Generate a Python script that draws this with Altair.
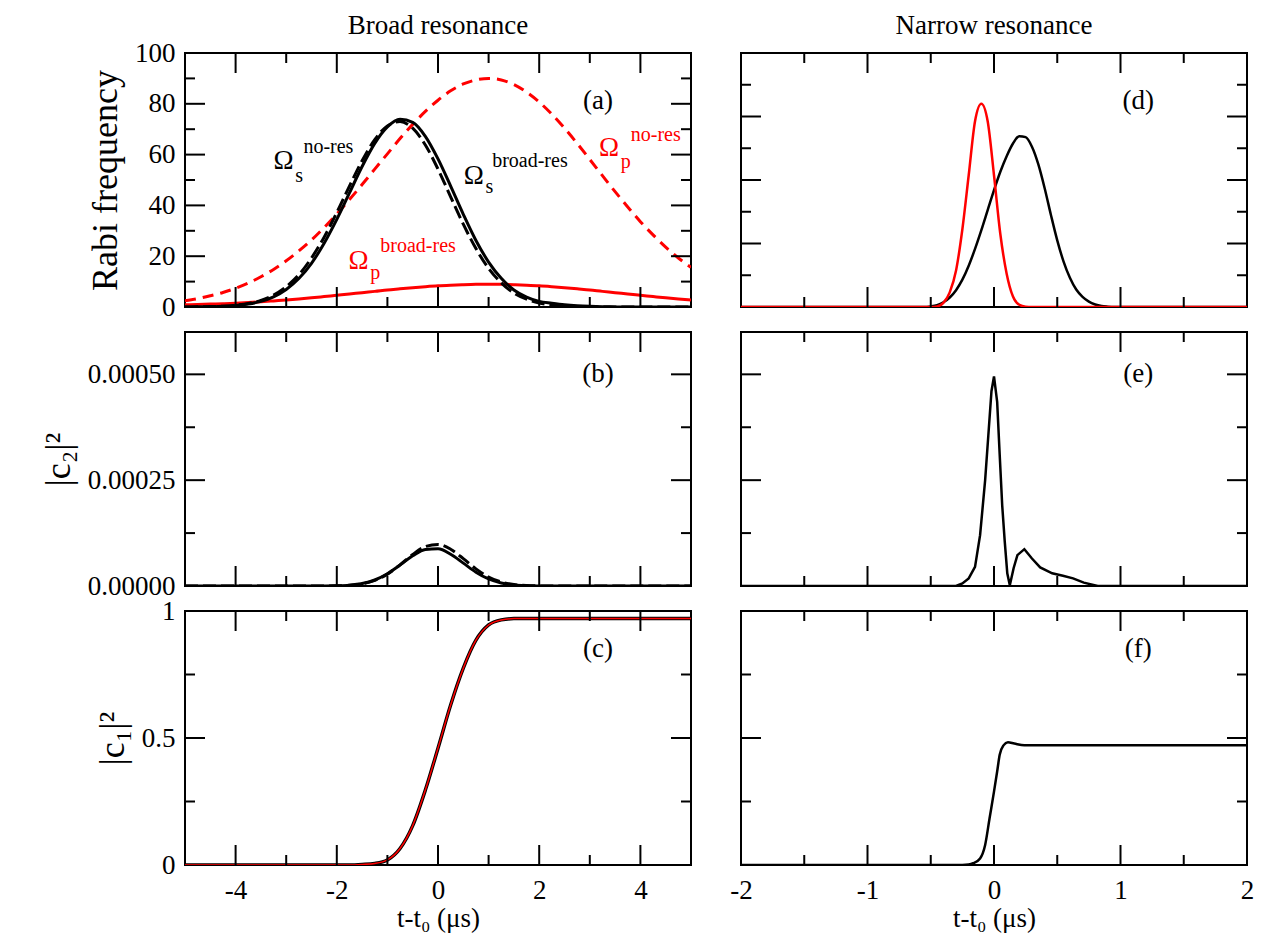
import altair as alt
import pandas as pd

FONT = "Liberation Serif"
RED = "#ff0000"
BLACK = "#000000"

# ---------------- Broad resonance (left column) ----------------
t_broad = [-5.0, -4.75, -4.5, -4.25, -4.0, -3.75, -3.5, -3.25, -3.0, -2.75,
           -2.5, -2.25, -2.0, -1.75, -1.5, -1.25, -1.0, -0.75, -0.5, -0.25,
           0.0, 0.25, 0.5, 0.75, 1.0, 1.25, 1.5, 1.75, 2.0, 2.25,
           2.5, 2.75, 3.0, 3.25, 3.5, 3.75, 4.0, 4.25, 4.5, 4.75, 5.0]

# panel (a): Rabi frequencies
omega_s_broad = [0.02, 0.05, 0.12, 0.26, 0.56, 1.15, 2.2, 4.0, 6.9, 11.2,
                 17.2, 25.1, 34.5, 44.9, 55.3, 64.4, 70.9, 73.9, 72.7, 67.2,
                 58.3, 47.6, 36.5, 26.2, 17.7, 11.3, 6.7, 3.9, 2.2, 1.5,
                 0.9, 0.5, 0.25, 0.1, 0.04, 0.0, 0.0, 0.0, 0.0, 0.0, 0.0]
omega_s_nores = [0.03, 0.06, 0.15, 0.33, 0.7, 1.4, 2.6, 4.7, 8.0, 12.7,
                 19.3, 27.5, 37.2, 47.6, 57.6, 65.9, 71.3, 73.0, 70.4, 63.8,
                 54.3, 43.4, 32.6, 23.0, 15.2, 9.5, 5.5, 3.1, 1.6, 0.8,
                 0.35, 0.15, 0.05, 0.0, 0.0, 0.0, 0.0, 0.0, 0.0, 0.0, 0.0]
omega_p_nores = [2.5, 3.3, 4.4, 5.7, 7.4, 9.4, 11.9, 14.8, 18.2, 22.1,
                 26.4, 31.3, 36.6, 42.3, 48.2, 54.3, 60.3, 66.3, 71.9, 77.0,
                 81.4, 85.1, 87.8, 89.4, 90.0, 89.4, 87.6, 84.6, 80.7, 75.9,
                 70.4, 64.4, 58.1, 51.7, 45.4, 39.4, 33.6, 28.4, 23.6, 19.3, 15.6]
omega_p_broad = [0.9, 1.0, 1.15, 1.3, 1.5, 1.75, 2.05, 2.4, 2.75, 3.15,
                 3.6, 4.1, 4.6, 5.1, 5.65, 6.15, 6.7, 7.15, 7.6, 8.0,
                 8.35, 8.6, 8.8, 8.95, 9.0, 8.95, 8.8, 8.6, 8.35, 8.0,
                 7.6, 7.15, 6.7, 6.15, 5.65, 5.1, 4.6, 4.1, 3.6, 3.15, 2.75]

# panel (b): |c2|^2
c2_broad_res = [0, 0, 0, 0, 0, 0, 0, 0, 0, 0,
                0, 1.4e-7, 6e-7, 2.0e-6, 5.8e-6, 1.42e-5, 2.89e-5, 4.95e-5, 7.13e-5, 8.63e-5,
                8.78e-5, 7.51e-5, 5.40e-5, 3.26e-5, 1.66e-5, 7.1e-6, 2.5e-6, 7.7e-7, 2e-7, 0,
                0, 0, 0, 0, 0, 0, 0, 0, 0, 0, 0]
c2_broad_nores = [0, 0, 0, 0, 0, 0, 0, 0, 0, 0,
                  0, 1e-7, 5e-7, 1.8e-6, 5.3e-6, 1.33e-5, 2.81e-5, 4.99e-5, 7.44e-5, 9.32e-5,
                  9.82e-5, 8.69e-5, 6.47e-5, 4.05e-5, 2.13e-5, 9.4e-6, 3.5e-6, 1.1e-6, 3e-7, 0,
                  0, 0, 0, 0, 0, 0, 0, 0, 0, 0, 0]

# panel (c): |c1|^2
c1_broad = [0, 0, 0, 0, 0, 0, 0, 0, 0, 0,
            0, 0, 0, 0, 0.002, 0.006, 0.02, 0.065, 0.155, 0.295,
            0.46, 0.63, 0.775, 0.885, 0.945, 0.965, 0.97, 0.97, 0.97, 0.97,
            0.97, 0.97, 0.97, 0.97, 0.97, 0.97, 0.97, 0.97, 0.97, 0.97, 0.97]

# ---------------- Narrow resonance (right column) ----------------
t_narrow = [-2.0, -0.6, -0.55, -0.5, -0.45, -0.4, -0.35, -0.3, -0.25, -0.2,
            -0.15, -0.1, -0.05, 0.0, 0.05, 0.1, 0.15, 0.2, 0.25, 0.3,
            0.35, 0.4, 0.45, 0.5, 0.55, 0.6, 0.65, 0.7, 0.75, 0.8,
            0.85, 0.9, 0.95, 1.0, 2.0]
omega_p_narrow = [0, 0, 0, 0, 0.2, 1.3, 4.6, 11.5, 24.5, 41.5,
                  58.5, 64.0, 58.5, 41.5, 23.0, 10.5, 3.3, 0.7, 0.1, 0,
                  0, 0, 0, 0, 0, 0, 0, 0, 0, 0,
                  0, 0, 0, 0, 0]
omega_s_narrow = [0, 0, 0, 0.2, 0.6, 1.5, 3.0, 5.3, 8.6, 13.0,
                  18.3, 24.2, 30.5, 36.8, 42.6, 47.5, 51.5, 53.8, 53.5, 50.5,
                  45.0, 37.5, 29.0, 21.0, 14.3, 9.2, 5.5, 3.2, 1.7, 0.8,
                  0.3, 0.1, 0, 0, 0]

t_c2_narrow = [-2.0, -0.3, -0.25, -0.2, -0.15, -0.11, -0.07, -0.045, -0.02, 0.0,
               0.025, 0.045, 0.065, 0.085, 0.105, 0.125, 0.155, 0.185, 0.24, 0.3,
               0.365, 0.46, 0.545, 0.625, 0.71, 0.82, 2.0]
c2_narrow = [0, 0, 0.6e-5, 1.8e-5, 4.5e-5, 12e-5, 25e-5, 35.5e-5, 46e-5, 49.5e-5,
             43.5e-5, 31e-5, 19e-5, 10.5e-5, 3e-5, 0.2e-5, 4.2e-5, 7.3e-5, 8.7e-5, 6.5e-5,
             4.4e-5, 3.0e-5, 2.4e-5, 1.8e-5, 0.8e-5, 0, 0]

t_c1_narrow = [-2.0, -0.25, -0.2, -0.165, -0.11, -0.07, -0.035, 0.0, 0.025, 0.045,
               0.075, 0.11, 0.16, 0.24, 2.0]
c1_narrow = [0, 0, 0.002, 0.007, 0.026, 0.079, 0.184, 0.289, 0.368, 0.434,
             0.471, 0.483, 0.478, 0.471, 0.471]

column_titles = ["Broad resonance", "Narrow resonance"]

W, H = 506, 254
MAJ, MINL = 20, 10
LABEL_SIZE = 27


def scale(dom):
    return alt.Scale(domain=dom, nice=False, zero=False)


def y_axis(values, title, fmt=None, expr=None):
    kw = dict(values=values, title=title, domain=False, ticks=False, tickSize=0,
              grid=False, labelFont=FONT, labelFontSize=LABEL_SIZE, labelPadding=10,
              labelColor=BLACK, titleFont=FONT, titleFontSize=36,
              titleFontWeight="normal", titleColor=BLACK, titlePadding=10,
              labelOverlap=False, labelFlush=False, titleLimit=500)
    if fmt:
        kw["format"] = fmt
    if expr:
        kw["labelExpr"] = expr
    return alt.Axis(**kw)


def x_axis(values):
    return alt.Axis(values=values, title="t-t₀ (μs)", domain=False, ticks=False,
                    tickSize=0, grid=False, labelFont=FONT, labelFontSize=LABEL_SIZE,
                    labelPadding=12, labelColor=BLACK, titleFont=FONT,
                    titleFontSize=27, titleFontWeight="normal", titleColor=BLACK,
                    titlePadding=2, labelOverlap=False, labelFlush=False,
                    labelExpr="'' + datum.value")


class Panel:
    def __init__(self, xs, ys, xa=None, ya=None):
        self.xs, self.ys, self.xa, self.ya = xs, ys, xa, ya
        self.layers = []

    def X(self, f):
        return alt.X(f, scale=self.xs, axis=self.xa)

    def Y(self, f):
        return alt.Y(f, scale=self.ys, axis=self.ya)

    def line(self, x, y, color, width, dash=None, interp="monotone"):
        df = pd.DataFrame({"x": x, "y": y})
        kw = dict(color=color, strokeWidth=width, interpolate=interp, clip=True)
        if dash:
            kw["strokeDash"] = dash
        self.layers.append(alt.Chart(df).mark_line(**kw).encode(
            x=self.X("x:Q"), y=self.Y("y:Q")))

    def ticks(self, xmaj, xmin, ymaj, ymin):
        for vals, L in ((xmaj, MAJ), (xmin, MINL)):
            base = alt.Chart(pd.DataFrame({"x": vals})).mark_rule(color=BLACK, strokeWidth=2)
            self.layers.append(base.encode(x=self.X("x:Q"), y=alt.value(H), y2=alt.value(H - L)))
            self.layers.append(base.encode(x=self.X("x:Q"), y=alt.value(0), y2=alt.value(L)))
        for vals, L in ((ymaj, MAJ), (ymin, MINL)):
            base = alt.Chart(pd.DataFrame({"y": vals})).mark_rule(color=BLACK, strokeWidth=2)
            self.layers.append(base.encode(y=self.Y("y:Q"), x=alt.value(0), x2=alt.value(L)))
            self.layers.append(base.encode(y=self.Y("y:Q"), x=alt.value(W), x2=alt.value(W - L)))

    def texts(self, items, align="left", baseline="alphabetic"):
        df = pd.DataFrame(items, columns=["x", "y", "label", "size", "color"])
        self.layers.append(alt.Chart(df).mark_text(align=align, baseline=baseline, font=FONT).encode(
            x=self.X("x:Q"), y=self.Y("y:Q"),
            text="label:N",
            size=alt.Size("size:Q", scale=None, legend=None),
            color=alt.Color("color:N", scale=None, legend=None),
        ))

    def heading(self, txt):
        self.layers.append(
            alt.Chart(pd.DataFrame({"t": [txt]})).mark_text(
                font=FONT, fontSize=27, color=BLACK, align="center", baseline="alphabetic"
            ).encode(text="t:N", x=alt.value(W / 2), y=alt.value(-19))
        )

    def chart(self):
        return alt.layer(*self.layers).properties(width=W, height=H)


xb = scale([-5, 5])
xn = scale([-2, 2])
x_maj_b, x_min_b = [-4, -2, 0, 2, 4], [-3, -1, 1, 3]
x_maj_n, x_min_n = [-1, 0, 1], [-1.5, -0.5, 0.5, 1.5]
ya_s = scale([0, 100])
yb_s = scale([0, 0.0006])
yc_s = scale([0, 1])
yd_s = scale([0, 80])

# ---- (a)
pa = Panel(xb, ya_s, None, y_axis([0, 20, 40, 60, 80, 100], "Rabi frequency"))
pa.line(t_broad, omega_p_broad, RED, 3)
pa.line(t_broad, omega_p_nores, RED, 3, dash=[11, 7])
pa.line(t_broad, omega_s_nores, BLACK, 3, dash=[13, 5])
pa.line(t_broad, omega_s_broad, BLACK, 3)
pa.ticks(x_maj_b, x_min_b, [20, 40, 60, 80], [10, 30, 50, 70, 90])
pa.texts([
    (-3.25, 54.5, "Ω", 27, BLACK), (-2.82, 49.4, "s", 20, BLACK), (-2.66, 60.5, "no-res", 20, BLACK),
    (0.51, 48.6, "Ω", 27, BLACK), (0.94, 44.7, "s", 20, BLACK), (1.07, 55.3, "broad-res", 20, BLACK),
    (-1.77, 15.0, "Ω", 27, RED), (-1.34, 11.1, "p", 20, RED), (-1.14, 21.7, "broad-res", 20, RED),
    (3.18, 59.3, "Ω", 27, RED), (3.61, 54.9, "p", 20, RED), (3.81, 65.2, "no-res", 20, RED),
])
pa.texts([(3.16, 81.2, "(a)", 27, BLACK)], align="center", baseline="middle")
pa.heading(column_titles[0])
panel_a = pa.chart()

# ---- (b)
pb = Panel(xb, yb_s, None, y_axis([0, 0.00025, 0.0005], "|c₂|²", fmt=".5f"))
pb.line(t_broad, c2_broad_nores, BLACK, 3, dash=[13, 5])
pb.line(t_broad, c2_broad_res, BLACK, 3)
pb.ticks(x_maj_b, x_min_b, [0.00025, 0.0005], [0.000125, 0.000375])
pb.texts([(3.16, 0.0005, "(b)", 27, BLACK)], align="center", baseline="middle")
panel_b = pb.chart()

# ---- (c)
pc = Panel(xb, yc_s, x_axis(x_maj_b), y_axis([0, 0.5, 1], "|c₁|²", expr="'' + datum.value"))
pc.line(t_broad, c1_broad, BLACK, 3.5)
pc.line(t_broad, c1_broad, RED, 1.5)
pc.ticks(x_maj_b, x_min_b, [0.5], [0.25, 0.75])
pc.texts([(3.16, 0.852, "(c)", 27, BLACK)], align="center", baseline="middle")
panel_c = pc.chart()

# ---- (d)
pd_ = Panel(xn, yd_s)
pd_.line(t_narrow, omega_s_narrow, BLACK, 2.5)
pd_.line(t_narrow, omega_p_narrow, RED, 2.5)
pd_.ticks(x_maj_n, x_min_n, [20, 40, 60], [10, 30, 50, 70])
pd_.texts([(1.14, 65.0, "(d)", 27, BLACK)], align="center", baseline="middle")
pd_.heading(column_titles[1])
panel_d = pd_.chart()

# ---- (e)
pe = Panel(xn, yb_s)
pe.line(t_c2_narrow, c2_narrow, BLACK, 2.5, interp="linear")
pe.ticks(x_maj_n, x_min_n, [0.00025, 0.0005], [0.000125, 0.000375])
pe.texts([(1.14, 0.0005, "(e)", 27, BLACK)], align="center", baseline="middle")
panel_e = pe.chart()

# ---- (f)
pf = Panel(xn, yc_s, x_axis([-2, -1, 0, 1, 2]), None)
pf.line(t_c1_narrow, c1_narrow, BLACK, 2.5)
pf.ticks(x_maj_n, x_min_n, [0.5], [0.25, 0.75])
pf.texts([(1.14, 0.852, "(f)", 27, BLACK)], align="center", baseline="middle")
panel_f = pf.chart()

chart = (
    alt.concat(panel_a, panel_d, panel_b, panel_e, panel_c, panel_f,
               columns=2, spacing={"row": 25, "column": 50}, bounds="flush")
    .properties(padding={"left": 31, "top": 3, "right": 2, "bottom": 2})
    .configure(font=FONT)
    .configure_view(stroke=BLACK, strokeWidth=2)
)

chart.save("out.html", embed_options={"renderer": "svg", "actions": False})
